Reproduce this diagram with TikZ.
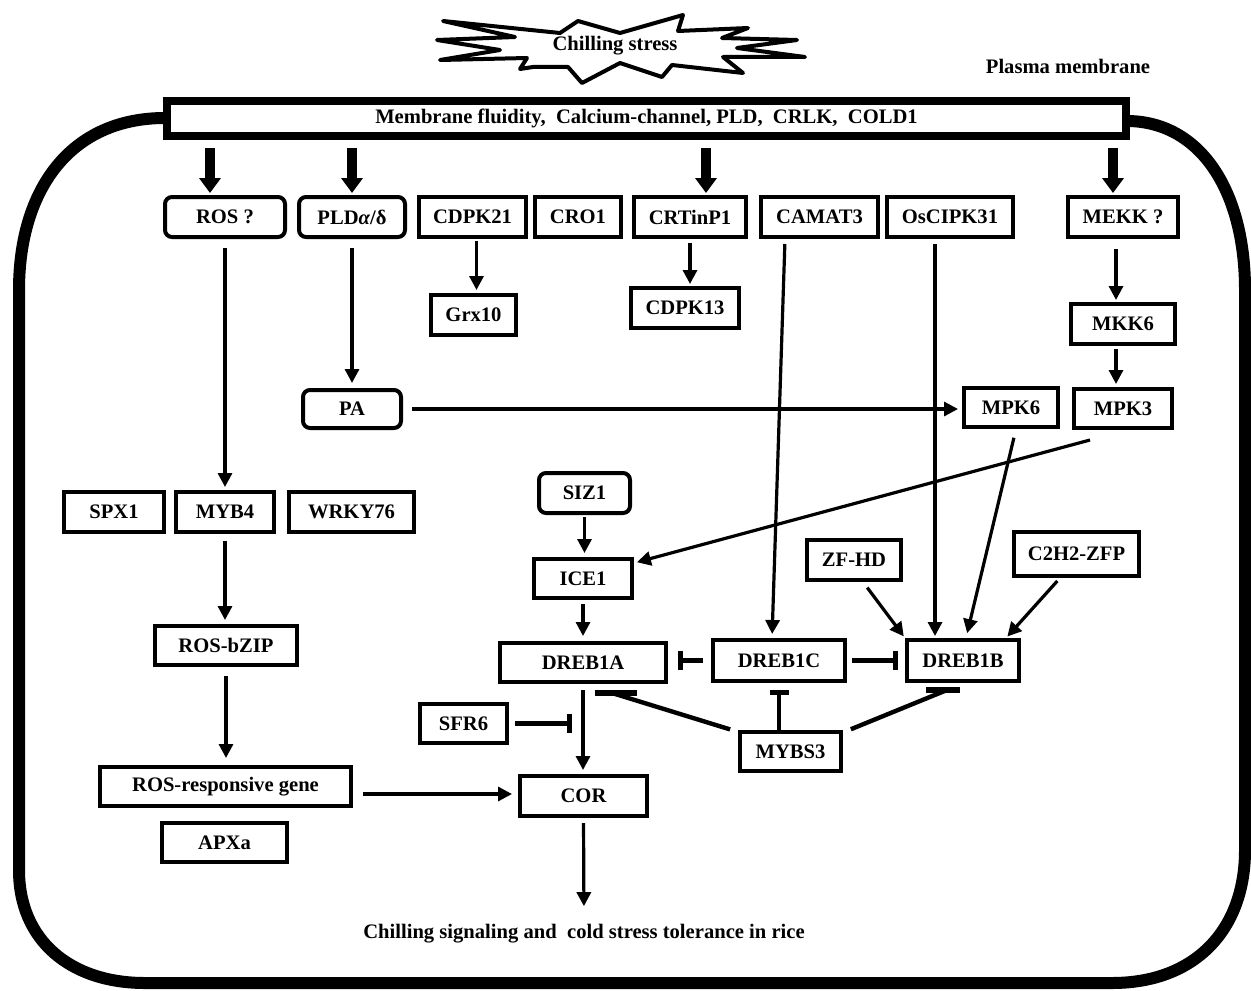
\documentclass[tikz,border=0pt]{standalone}
\usepackage{fontspec}
\setmainfont{Liberation Serif}
\usetikzlibrary{arrows.meta}
\newcommand{\myfont}{\bfseries\fontsize{10.3}{12}\selectfont}
\begin{document}
\begin{tikzpicture}[x=0.5pt,y=-0.5pt,
  box/.style={draw, line width=2pt, inner sep=0pt, font=\myfont, fill=white},
  rbox/.style={box, rounded corners=3.5pt},
  fat/.style={line width=5.3pt, -{Triangle[length=7.5pt,width=10.5pt]}, shorten <=4pt, shorten >=1pt},
  arr/.style={line width=1.6pt, -{Triangle[length=7pt,width=7pt]}},
  inh/.style={line width=2.2pt, -{Bar[width=9.5pt,line width=2.6pt]}},
  plainline/.style={line width=2.2pt},
  barline/.style={line width=2.6pt},
  lbl/.style={font=\myfont, inner sep=0pt}]
\useasboundingbox (0,0) rectangle (1251,990);

% cell outline
\draw[line width=6pt] (165,118) .. controls (70,118) and (19,190) .. (19,290)
  -- (19,870) .. controls (19,940) and (70,983) .. (145,983)
  -- (1112,983) .. controls (1195,983) and (1245,930) .. (1245,850)
  -- (1245,290) .. controls (1245,190) and (1200,122) .. (1128,121);

% chilling stress starburst
\draw[line width=2pt, line join=round, fill=white]
  (443,21) -- (560,33) -- (578,21) -- (620,33) -- (683,15) -- (678,31) -- (748,28)
  -- (722,38) -- (797,40) -- (737,48) -- (805,57) -- (723,57) -- (743,73)
  -- (672,65) -- (662,77) -- (620,63) -- (582,83) -- (568,67) -- (533,67)
  -- (520,69) -- (527,58) -- (440,60) -- (500,50) -- (437,40) -- (515,37) -- cycle;
\node[lbl] (stress) at (615,46) {Chilling stress};
\node[lbl] (plasma) at (1068,66) {Plasma membrane};

% membrane bar
\node[box, line width=4pt, minimum width=479.5pt, minimum height=17.5pt] (membrane) at (646.5,118.5)
  {Membrane fluidity,\ \ Calcium-channel, PLD,\ \ CRLK,\ \ COLD1};

% row 1
\node[rbox, minimum width=60pt, minimum height=20pt] (ros) at (225,217) {ROS ?};
\node[rbox, minimum width=53pt, minimum height=20pt] (pld) at (352,217) {PLD{\itshape α}/δ};
\node[box, minimum width=53.5pt, minimum height=20pt] (cdpk21) at (472.5,217) {CDPK21};
\node[box, minimum width=43pt, minimum height=20pt] (cro1) at (578,217) {CRO1};
\node[box, minimum width=56pt, minimum height=20pt] (crtinp1) at (690,217) {CRTinP1};
\node[box, minimum width=58.5pt, minimum height=20pt] (camat3) at (819.5,217) {CAMAT3};
\node[box, minimum width=63pt, minimum height=20pt] (oscipk31) at (950,217) {OsCIPK31};
\node[box, minimum width=55pt, minimum height=20pt] (mekk) at (1123,217) {MEKK ?};

\node[box, minimum width=42.5pt, minimum height=20pt] (grx10) at (473.5,315) {Grx10};
\node[box, minimum width=54pt, minimum height=20pt] (cdpk13) at (685,308) {CDPK13};
\node[box, minimum width=52pt, minimum height=20pt] (mkk6) at (1123,324) {MKK6};
\node[box, minimum width=49pt, minimum height=19.5pt] (mpk3) at (1123,408.5) {MPK3};
\node[box, minimum width=47pt, minimum height=19.5pt] (mpk6) at (1011,407.5) {MPK6};
\node[rbox, minimum width=49pt, minimum height=19pt] (pa) at (352,409) {PA};

\node[box, minimum width=50pt, minimum height=20pt] (spx1) at (114,512) {SPX1};
\node[box, minimum width=49pt, minimum height=20pt] (myb4) at (225,512) {MYB4};
\node[box, minimum width=62.5pt, minimum height=20pt] (wrky76) at (351.5,512) {WRKY76};
\node[box, minimum width=71pt, minimum height=19.5pt] (rosbzip) at (226,645.5) {ROS-bZIP};
\node[box, minimum width=125.5pt, minimum height=19.5pt] (rosresp) at (225.5,786.5) {ROS-responsive gene};
\node[box, minimum width=62.5pt, minimum height=19.5pt] (apxa) at (224.5,842.5) {APXa};

\node[rbox, minimum width=45.5pt, minimum height=20pt] (siz1) at (584.5,493) {SIZ1};
\node[box, minimum width=49pt, minimum height=19.5pt] (ice1) at (583,578.5) {ICE1};
\node[box, minimum width=83pt, minimum height=19.5pt] (dreb1a) at (583,662.5) {DREB1A};
\node[box, minimum width=66pt, minimum height=20.5pt] (dreb1c) at (779,660.5) {DREB1C};
\node[box, minimum width=56pt, minimum height=20.5pt] (dreb1b) at (963,660.5) {DREB1B};
\node[box, minimum width=47pt, minimum height=20pt] (zfhd) at (854,560) {ZF-HD};
\node[box, minimum width=62.5pt, minimum height=22pt] (c2h2) at (1076.5,554) {C2H2-ZFP};
\node[box, minimum width=50.5pt, minimum height=19.5pt] (mybs3) at (790.5,751.5) {MYBS3};
\node[box, minimum width=43.5pt, minimum height=19.5pt] (sfr6) at (463.5,723.5) {SFR6};
\node[box, minimum width=63.5pt, minimum height=20pt] (cor) at (583.5,796) {COR};
\node[lbl] (out) at (584,934) {Chilling signaling and\ \ cold stress tolerance in rice};

% fat arrows from membrane
\coordinate (t1) at ([xshift=-7.5pt]ros.north);
\coordinate (t2) at (pld.north);
\coordinate (t3) at ([xshift=8pt]crtinp1.north);
\coordinate (t4) at ([xshift=-5pt]mekk.north);
\draw[fat] (membrane.south -| t1) -- (t1);
\draw[fat] (membrane.south -| t2) -- (t2);
\draw[fat] (membrane.south -| t3) -- (t3);
\draw[fat] (membrane.south -| t4) -- (t4);

% thin arrows
\draw[arr, shorten <=4.5pt, shorten >=1.5pt] (ros.south) -- (myb4.north);
\draw[arr, shorten <=4.5pt, shorten >=2.5pt] (pld.south) -- (pa.north);
\draw[arr, shorten <=1pt, shorten >=1.5pt] ([xshift=2pt]cdpk21.south) -- ([xshift=2pt]cdpk21.south |- grx10.north);
\draw[arr, shorten <=2pt, shorten >=1pt] (crtinp1.south) -- (crtinp1.south |- cdpk13.north);
\draw[arr, shorten <=5pt, shorten >=1pt] ([xshift=-3.5pt]mekk.south) -- ([xshift=-3.5pt]mekk.south |- mkk6.north);
\draw[arr, shorten <=1.5pt, shorten >=1.5pt] ([xshift=-3.5pt]mkk6.south) -- ([xshift=-3.5pt]mkk6.south |- mpk3.north);
\draw[arr, shorten <=4.5pt, shorten >=2pt] (pa.east) -- (pa.east -| mpk6.west);
\draw[arr, shorten <=3.5pt, shorten >=2pt] (myb4.south) -- (myb4.south |- rosbzip.north);
\draw[arr, shorten <=4.5pt, shorten >=3.5pt] (rosbzip.south) -- (rosbzip.south |- rosresp.north);
\draw[arr, shorten <=5pt, shorten >=3pt] ([yshift=1pt]cor.west -| rosresp.east) -- ([yshift=1pt]cor.west);
\draw[arr, shorten <=1pt, shorten >=2pt] (siz1.south) -- (siz1.south |- ice1.north);
\draw[arr, shorten >=1.5pt] ([xshift=-16.5pt,yshift=-5pt]mpk3.south) -- ([yshift=7.75pt]ice1.east);
\draw[arr, shorten <=2pt, shorten >=2.5pt] (ice1.south) -- (ice1.south |- dreb1a.north);
\draw[arr, shorten <=2.5pt, shorten >=2pt] ([xshift=-17.25pt]camat3.south) -- ([xshift=-3.5pt]dreb1c.north);
\draw[arr, shorten <=2.5pt, shorten >=1pt] ([xshift=-7.5pt]oscipk31.south) -- ([xshift=-14pt]dreb1b.north);
\draw[arr, shorten <=4.5pt, shorten >=2.5pt] ([xshift=2.5pt]mpk6.south) -- ([xshift=1.5pt]dreb1b.north);
\draw[arr, shorten <=3.5pt, shorten >=1pt] ([xshift=4.5pt]zfhd.south) -- (dreb1b.north west);
\draw[arr, shorten <=2pt, shorten >=1pt] ([xshift=-8.25pt]c2h2.south) -- ([xshift=-7.5pt]dreb1b.north east);
\draw[arr, shorten <=3pt, shorten >=2pt] (dreb1a.south) -- (dreb1a.south |- cor.north);
\draw[arr, shorten <=2.5pt, shorten >=9pt] (cor.south) -- (out.north);

% inhibitions
\draw[inh, shorten <=4pt, shorten >=5pt] (dreb1c.west) -- (dreb1a.east |- dreb1c.west);
\draw[inh, shorten <=2.5pt, shorten >=3.5pt] (dreb1c.east) -- (dreb1b.west);
\draw[inh, shorten >=3.5pt] (mybs3.north -| dreb1c.south) -- (dreb1c.south);
\draw[inh, shorten <=3pt, shorten >=5.75pt] (sfr6.east) -- (sfr6.east -| cor.north);
\coordinate (ba) at ([xshift=16.5pt,yshift=-4.5pt]dreb1a.south);
\draw[plainline, shorten <=1pt] ([xshift=-3pt]mybs3.north west) -- ([xshift=-2pt]ba);
\draw[barline] ([xshift=-10.5pt]ba) -- ([xshift=10.5pt]ba);
\coordinate (bb) at ([xshift=-10pt,yshift=-3.5pt]dreb1b.south);
\draw[plainline, shorten <=1pt] ([xshift=3pt]mybs3.north east) -- ([xshift=2pt]bb);
\draw[barline] ([xshift=-8.5pt]bb) -- ([xshift=8.5pt]bb);
\end{tikzpicture}
\end{document}
